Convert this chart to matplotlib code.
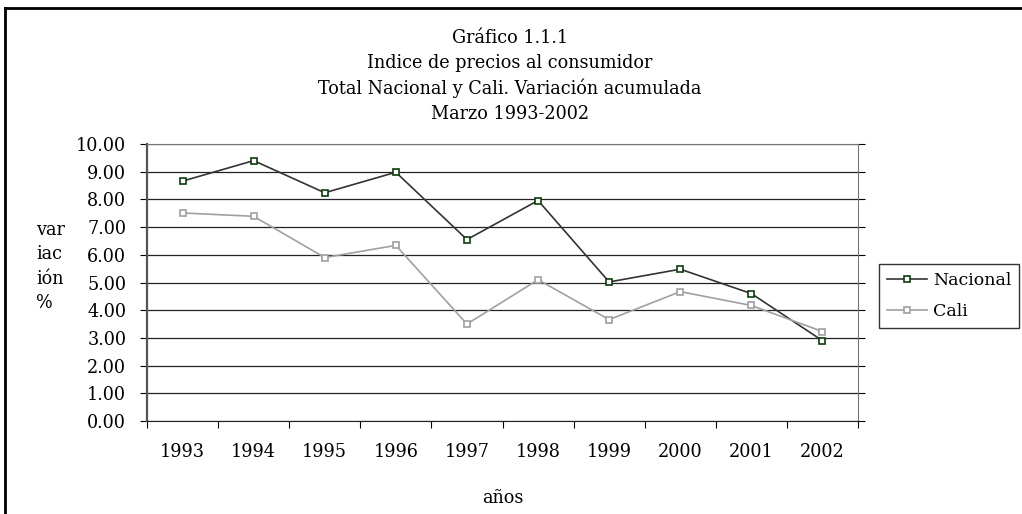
import matplotlib
matplotlib.use("Agg")
import matplotlib.pyplot as plt
from matplotlib.lines import Line2D

years = ["1993", "1994", "1995", "1996", "1997", "1998", "1999", "2000", "2001", "2002"]
nacional = [8.66, 9.40, 8.24, 8.98, 6.55, 7.96, 5.02, 5.48, 4.60, 2.90]
cali = [7.51, 7.39, 5.90, 6.34, 3.50, 5.10, 3.66, 4.67, 4.17, 3.23]
title_lines = ["Gráfico 1.1.1", "Indice de precios al consumidor",
               "Total Nacional y Cali. Variación acumulada", "Marzo 1993-2002"]

FS = 12.7
plt.rcParams.update({"font.family": "DejaVu Serif", "font.size": FS})
C_NAC_LINE, C_NAC_MK, C_CALI = "#333333", "#0B3D0B", "#A0A0A0"

fig = plt.figure(figsize=(10.22, 5.14), dpi=100)
ax = fig.add_axes([147/1022, 1-421/514, (858-147)/1022, (421-144)/514])

x = list(range(len(years)))
ax.plot(x, nacional, color=C_NAC_LINE, lw=1.2, marker="s", ms=4.5,
        mfc="white", mec=C_NAC_MK, mew=1.2, label="Nacional", zorder=3)
ax.plot(x, cali, color=C_CALI, lw=1.2, marker="s", ms=4.5,
        mfc="white", mec=C_CALI, mew=1.2, label="Cali", zorder=3)

ax.set_xlim(-0.5, len(years)-0.5)
ax.set_ylim(0, 10)
ax.set_yticks(range(0, 11))
ax.set_yticklabels([f"{v:.2f}" for v in range(0, 11)])
ax.set_xticks(x)
ax.set_xticklabels(years)
ax.set_xticks([i-0.5 for i in range(len(years)+1)], minor=True)
ax.tick_params(axis="x", which="major", length=0, pad=16, labelsize=FS)
ax.tick_params(axis="x", which="minor", length=5, direction="out", width=0.8)
ax.tick_params(axis="y", which="major", length=5, direction="out", width=0.8,
               labelsize=FS, right=True, pad=10)
ax.grid(axis="y", color="#222222", lw=0.9)
ax.set_axisbelow(True)
for s in ("top", "right"):
    ax.spines[s].set_color("#777777")
ax.spines["left"].set_linewidth(1.6)
ax.spines["left"].set_color("#555555")
ax.spines["bottom"].set_color("#222222")

ax.set_xlabel("años", labelpad=20, fontsize=FS)

for i, t in enumerate(title_lines):
    fig.text(510/1022, 1-(38+25.3*i)/514, t, ha="center", va="center", fontsize=FS)

fig.text(36/1022, 1-221/514, "var\niac\nión\n%", ha="left", va="top",
         fontsize=FS, linespacing=1.45)

fig.legend(loc="center left", bbox_to_anchor=(879/1022, 1-296/514), frameon=True,
           fancybox=False, edgecolor="black", fontsize=12.5, handlelength=2.3,
           handletextpad=0.35, borderpad=0.45, labelspacing=0.85, borderaxespad=0)

# outer frame (top and left edges visible)
fig.add_artist(Line2D([5/1022, 1], [1-8/514, 1-8/514], color="black", lw=2,
                      transform=fig.transFigure))
fig.add_artist(Line2D([5/1022, 5/1022], [0, 1-8/514], color="black", lw=2,
                      transform=fig.transFigure))

fig.savefig("out.png", dpi=100)
